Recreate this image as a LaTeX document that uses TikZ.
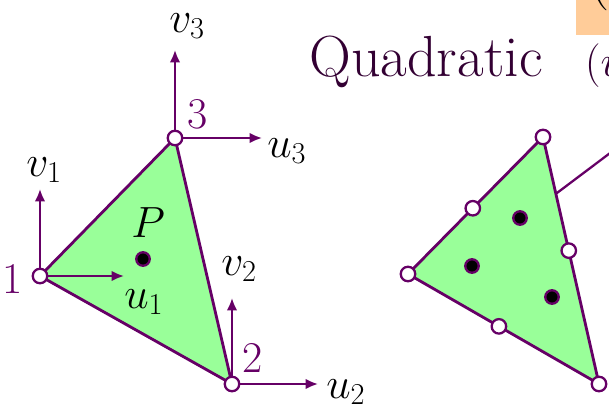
\documentclass[tikz,border=0pt]{standalone}
\usetikzlibrary{arrows.meta,positioning,calc}
\definecolor{plum}{HTML}{660066}
\definecolor{leaf}{HTML}{99FF99}
\definecolor{peach}{HTML}{FFCC99}
\definecolor{ink}{HTML}{330033}

\begin{document}
\begin{tikzpicture}[x=0.02cm, y=-0.02cm,
  tri/.style={draw=plum, fill=leaf, line width=1.6pt, line join=round},
  hollow/.style={circle, draw=plum, fill=white, line width=1.3pt, inner sep=0pt, minimum size=0.29cm},
  blackdot/.style={circle, draw=plum, fill=black, line width=1.3pt, inner sep=0pt, minimum size=0.27cm},
  vec/.style={-{Latex[length=7pt,width=6pt]}, draw=plum, line width=1.2pt},
  lab/.style={font=\fontsize{25}{30}\selectfont, inner sep=0pt, anchor=base west},
  num/.style={lab, text=plum},
  pointer/.style={draw=plum, line width=1.3pt}
]
\useasboundingbox (0,0) rectangle (609,409);
\clip (0,0) rectangle (609,409);

% title strip
\fill[peach] (576,-5) rectangle (615,35);
\node[lab, font=\fontsize{32.5}{38}\selectfont] (brace) at (589,-4) {(};
\node[lab, font=\fontsize{33}{38}\selectfont, text=ink] (title) at (309,76)
  {Quadratic\hspace{0.85cm}$(u$};

% linear element
\coordinate (c1) at (40,276);
\coordinate (c2) at (232,384);
\coordinate (c3) at (175,138);
\filldraw[tri] (c1) -- (c2) -- (c3) -- cycle;
\node[hollow] (n1) at (c1) {};
\node[hollow] (n2) at (c2) {};
\node[hollow] (n3) at (c3) {};
\node[blackdot] (p) at (143,259) {};

\coordinate (u1tip) at (124,276);
\coordinate (v1tip) at (40,189);
\coordinate (u2tip) at (318,384);
\coordinate (v2tip) at (232,298);
\coordinate (u3tip) at (262,138);
\coordinate (v3tip) at (175,50);
\draw[vec] (n1) -- (u1tip);
\draw[vec] (n1) -- (v1tip);
\draw[vec] (n2) -- (u2tip);
\draw[vec] (n2) -- (v2tip);
\draw[vec] (n3) -- (u3tip);
\draw[vec] (n3) -- (v3tip);

\node[num, anchor=base east] (k1) at (23,293) {1};
\node[num] (k2) at (242,372) {2};
\node[num] (k3) at (187,128) {3};
\node[lab] (pl) at (131,237) {$P$};
\node[lab] (u1) at (124,308) {$u_1$};
\node[lab] (v1) at (26,176) {$v_1$};
\node[lab] (u2) at (326,398) {$u_2$};
\node[lab] (v2) at (221,275) {$v_2$};
\node[lab] (u3) at (267,157) {$u_3$};
\node[lab] (v3) at (169,32) {$v_3$};

% quadratic element
\coordinate (r1) at (408,274);
\coordinate (r2) at (599,384);
\coordinate (r3) at (543,137);
\filldraw[tri] (r1) -- (r2) -- (r3) -- cycle;
\coordinate (hook) at ($(r3)!0.23!(r2)$);
\coordinate (far) at (650,123);
\draw[pointer] (hook) -- (far);
\node[hollow] (m1) at (r1) {};
\node[hollow] (m2) at (r2) {};
\node[hollow] (m3) at (r3) {};
\node[hollow] (m13) at ($(r1)!0.48!(r3)$) {};
\node[hollow] (m32) at ($(r3)!0.46!(r2)$) {};
\node[hollow] (m12) at ($(r1)!0.476!(r2)$) {};
\node[blackdot] (g1) at (520,218) {};
\node[blackdot] (g2) at (472,266) {};
\node[blackdot] (g3) at (552,297) {};
\end{tikzpicture}
\end{document}
